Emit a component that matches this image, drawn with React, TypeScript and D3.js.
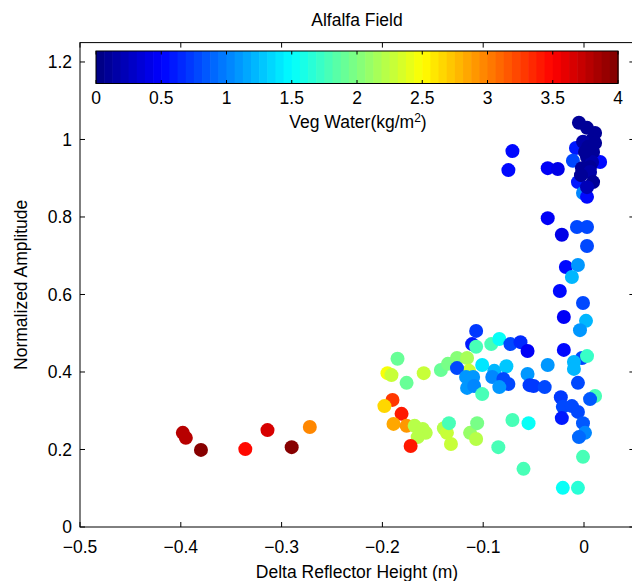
import React from "react";
import * as d3 from "d3";

const deltaHeight: number[] = [
  -0.398, -0.395, -0.380, -0.336, -0.314, -0.290, -0.272,
  -0.185, -0.195, -0.191, -0.176, -0.159, -0.142, -0.135, -0.126, -0.116, -0.114,
  -0.190, -0.198, -0.181, -0.189, -0.176, -0.168, -0.160, -0.157, -0.165, -0.172,
  -0.139, -0.136, -0.134, -0.132, -0.113, -0.107, -0.106, -0.071, -0.055, -0.085, -0.060,
  -0.107, -0.111, -0.107, -0.092, -0.084, -0.073, -0.063, -0.056, -0.020, 0.002, -0.004,
  -0.020, -0.002, 0.003, -0.010, -0.010, -0.036, -0.056, -0.054, -0.050, -0.039, -0.006,
  -0.023, -0.021, 0.011, 0.006, -0.012, -0.006, -0.022, -0.001, 0.001, -0.005, -0.001,
  -0.021, -0.006, -0.101, -0.126, -0.089, -0.077, -0.117, -0.110, -0.116, -0.109, -0.091,
  -0.080, -0.075, -0.084, -0.101,
  -0.036, -0.007, 0.003, -0.022, 0.003, -0.018, -0.006, -0.012, -0.024, -0.001,
  -0.071, -0.075, -0.036, -0.026, -0.008, -0.011, 0.016, -0.006, -0.001, 0.003,
  -0.005, 0.003, 0.011, 0.008, -0.001, 0.004, 0.009, 0.003, 0.008, 0.006, -0.002, 0.006,
  -0.003, 0.009, 0.003, 0.011, 0.001,
];

const amplitude: number[] = [
  0.243, 0.230, 0.199, 0.201, 0.250, 0.206, 0.258,
  0.434, 0.397, 0.392, 0.372, 0.397, 0.405, 0.421, 0.436, 0.436, 0.403,
  0.328, 0.312, 0.292, 0.266, 0.261, 0.261, 0.253, 0.243, 0.232, 0.209,
  0.255, 0.243, 0.268, 0.214, 0.243, 0.227, 0.268, 0.276, 0.268, 0.206, 0.150,
  0.506, 0.472, 0.465, 0.472, 0.485, 0.472, 0.477, 0.454, 0.542, 0.532, 0.508,
  0.457, 0.436, 0.441, 0.426, 0.408, 0.418, 0.395, 0.366, 0.364, 0.361, 0.372,
  0.335, 0.310, 0.338, 0.330, 0.312, 0.297, 0.281, 0.268, 0.243, 0.232, 0.181,
  0.101, 0.101, 0.418, 0.410, 0.403, 0.415, 0.387, 0.387, 0.359, 0.364, 0.387,
  0.382, 0.369, 0.361, 0.343,
  0.797, 0.774, 0.774, 0.754, 0.725, 0.671, 0.676, 0.645, 0.609, 0.578,
  0.970, 0.921, 0.926, 0.924, 0.978, 0.945, 0.942, 0.890, 0.862, 0.852,
  1.043, 1.030, 1.017, 0.999, 0.994, 0.981, 0.968, 0.955, 0.942, 0.929, 0.926, 0.916,
  0.908, 0.890, 0.877, 0.991, 0.968,
];

const vegWater: number[] = [
  3.75, 3.8, 4.0, 3.45, 3.65, 3.95, 2.95,
  1.9, 2.45, 2.3, 1.9, 2.25, 1.9, 1.95, 2.0, 2.15, 2.25,
  3.25, 2.65, 3.4, 2.85, 2.9, 2.2, 2.2, 2.2, 2.2, 3.4,
  2.2, 2.25, 1.8, 2.25, 2.1, 2.2, 1.95, 1.8, 1.5, 1.75, 1.8,
  0.7, 0.6, 1.8, 1.75, 1.55, 0.75, 0.65, 0.45, 0.45, 1.2, 1.1,
  0.5, 0.75, 1.7, 1.2, 1.2, 1.1, 1.1, 0.7, 0.7, 0.75, 0.75,
  0.7, 0.75, 1.75, 0.85, 0.8, 0.8, 0.6, 0.85, 1.0, 0.9, 1.75,
  1.5, 1.65, 1.4, 0.75, 1.2, 1.3, 1.1, 1.1, 1.1, 1.0, 1.0,
  0.8, 0.8, 1.1, 1.8,
  0.45, 0.8, 0.8, 0.4, 0.8, 0.5, 1.1, 1.2, 0.5, 0.8,
  0.5, 0.5, 0.45, 0.4, 0.6, 0.8, 0.5, 0.6, 1.0, 0.5,
  0.1, 0.1, 0.1, 0.1, 0.15, 0.1, 0.1, 0.1, 0.15, 0.1, 0.1, 0.15,
  0.1, 0.1, 0.2, 0.1, 0.1,
];

const xTicks: number[] = [-0.5, -0.4, -0.3, -0.2, -0.1, 0];
const yTicks: number[] = [0, 0.2, 0.4, 0.6, 0.8, 1, 1.2];
const cbTicks: number[] = [0, 0.5, 1, 1.5, 2, 2.5, 3, 3.5, 4];

const title = "Alfalfa Field";
const xLabel = "Delta Reflector Height (m)";
const yLabel = "Normalized Amplitude";

function jet(t: number): string {
  const c = (v: number) => Math.max(0, Math.min(1, v));
  const r = c(1.5 - Math.abs(4 * t - 3));
  const g = c(1.5 - Math.abs(4 * t - 2));
  const b = c(1.5 - Math.abs(4 * t - 1));
  return d3.rgb(r * 255, g * 255, b * 255).formatHex();
}
const N = 64;
function jetQ(v: number): string {
  let i = Math.floor((v / 4) * N);
  i = Math.max(0, Math.min(N - 1, i));
  return jet((i + 0.5) / N);
}

const fmt = (v: number) => {
  const s = d3.format("~g")(v);
  return s.replace("-", "\u2212");
};

export default function App() {
  const W = 632, H = 581;
  const left = 80, right = 634.4, top = 42.6, bottom = 527;
  const x = d3.scaleLinear().domain([-0.5, 0.05]).range([left, right]);
  const y = d3.scaleLinear().domain([0, 1.25]).range([bottom, top]);
  const cb = d3.scaleLinear().domain([0, 4]).range([96, 618]);
  const cbTop = 51, cbBot = 83.5;
  const font = "'Liberation Sans', Arial, Helvetica, sans-serif";
  const fs = 17.5;
  const bands = d3.range(N);
  const idx = d3.range(deltaHeight.length);

  return (
    <svg width={W} height={H} style={{ position: "absolute", left: 0, top: 0, background: "#fff" }}
      fontFamily={font}>
      <rect x={0} y={0} width={W} height={H} fill="#fff" />
      {/* points */}
      <g>
        {idx.map((i) => (
          <circle key={i} cx={x(deltaHeight[i])} cy={y(amplitude[i])} r={7} fill={jetQ(vegWater[i])} />
        ))}
      </g>
      {/* axes box */}
      <rect x={left} y={top} width={right - left} height={bottom - top} fill="none" stroke="#000" strokeWidth={1} />
      {xTicks.map((t) => (
        <g key={"x" + t}>
          <line x1={x(t)} x2={x(t)} y1={bottom} y2={bottom - 5} stroke="#000" />
          <line x1={x(t)} x2={x(t)} y1={top} y2={top + 5} stroke="#000" />
          <text x={x(t)} y={553} fontSize={fs} textAnchor="middle">{fmt(t)}</text>
        </g>
      ))}
      {yTicks.map((t) => (
        <g key={"y" + t}>
          <line x1={left} x2={left + 5} y1={y(t)} y2={y(t)} stroke="#000" />
          <line x1={right} x2={right - 5} y1={y(t)} y2={y(t)} stroke="#000" />
          <text x={72} y={y(t)} dy="0.35em" fontSize={fs} textAnchor="end">{fmt(t)}</text>
        </g>
      ))}
      {/* colorbar */}
      <rect x={cb(0) - 0.5} y={cbTop} width={cb(4) - cb(0) + 1} height={cbBot - cbTop} fill="#fff" />
      {bands.map((i) => (
        <rect key={"b" + i} x={cb((i / N) * 4)} y={cbTop} width={cb(4 / N) - cb(0) + 0.6}
          height={cbBot - cbTop} fill={jet((i + 0.5) / N)} />
      ))}
      <rect x={cb(0)} y={cbTop} width={cb(4) - cb(0)} height={cbBot - cbTop} fill="none" stroke="#000" strokeWidth={1} />
      {cbTicks.map((t) => (
        <g key={"c" + t}>
          <line x1={cb(t)} x2={cb(t)} y1={cbTop} y2={cbTop + 3.5} stroke="#000" />
          <line x1={cb(t)} x2={cb(t)} y1={cbBot} y2={cbBot - 3.5} stroke="#000" />
          <text x={cb(t)} y={104} fontSize={fs} textAnchor="middle">{fmt(t)}</text>
        </g>
      ))}
      <text x={358} y={128} fontSize={fs} textAnchor="middle">
        Veg Water(kg/m<tspan dy={-6} fontSize={12}>2</tspan><tspan dy={6}>)</tspan>
      </text>
      {/* titles */}
      <text x={357} y={26} fontSize={fs} textAnchor="middle">{title}</text>
      <text x={357} y={578} fontSize={fs} textAnchor="middle">{xLabel}</text>
      <text transform={`translate(27,${(top + bottom) / 2}) rotate(-90)`} fontSize={fs} textAnchor="middle">{yLabel}</text>
    </svg>
  );
}
